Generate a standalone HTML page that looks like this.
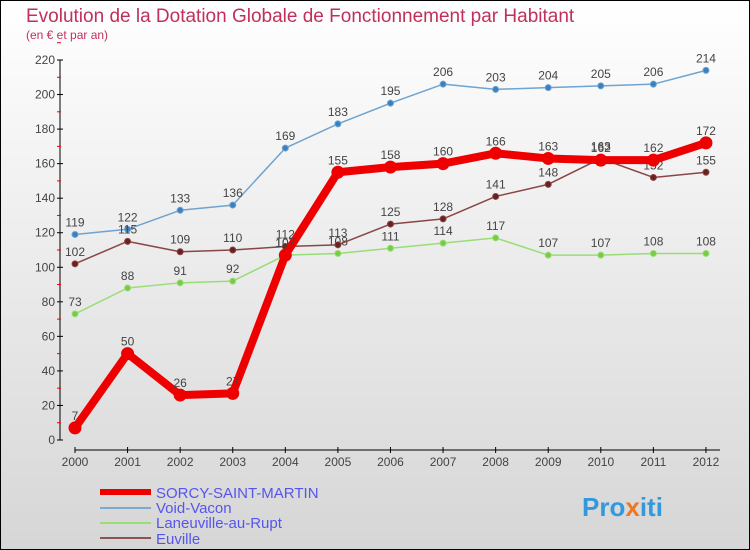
<!DOCTYPE html>
<html><head><meta charset="utf-8"><style>
body{margin:0}
#wrap{width:750px;height:550px;position:relative;overflow:hidden;background:linear-gradient(#ffffff,#d6d6d6);box-sizing:border-box;border:1px solid #000;font-family:"Liberation Sans",sans-serif}
</style></head><body>
<div id="wrap">
<svg id="svg" width="750" height="550" style="position:absolute;left:-1px;top:-1px">
<text x="26" y="22" font-size="19" fill="#c0305a">Evolution de la Dotation Globale de Fonctionnement par Habitant</text>
<text x="26" y="39" font-size="12" fill="#c0305a">(en € et par an)</text>
<g id="axes"></g><g id="series"></g>
<g>
<line x1="100" y1="492" x2="151" y2="492" stroke="#e00" stroke-width="6"/>
<text x="156" y="498" font-size="15" fill="#5555ee">SORCY-SAINT-MARTIN</text>
<line x1="100" y1="508" x2="151" y2="508" stroke="#7aaad0" stroke-width="2"/>
<text x="156" y="513" font-size="15" fill="#5555ee">Void-Vacon</text>
<line x1="100" y1="523" x2="151" y2="523" stroke="#99dd77" stroke-width="2"/>
<text x="156" y="528" font-size="15" fill="#5555ee">Laneuville-au-Rupt</text>
<line x1="100" y1="538" x2="151" y2="538" stroke="#8a5555" stroke-width="2"/>
<text x="156" y="544" font-size="15" fill="#5555ee">Euville</text>
</g>
<text x="582" y="516" font-size="26" font-weight="bold" fill="#3399dd">Pro<tspan fill="#ee7722">x</tspan>iti</text>
</svg>
</div>
<script>
const years=["2000","2001","2002","2003","2004","2005","2006","2007","2008","2009","2010","2011","2012"];
const yTicks=[0,20,40,60,80,100,120,140,160,180,200,220];
const sorcy=[7,50,26,27,107,155,158,160,166,163,162,162,172];
const voidVacon=[119,122,133,136,169,183,195,206,203,204,205,206,214];
const laneuville=[73,88,91,92,107,108,111,114,117,107,107,108,108];
const euville=[102,115,109,110,112,113,125,128,141,148,163,152,155];
const NS="http://www.w3.org/2000/svg";
const X=i=>75+i*52.58, Y=v=>440-v*1.7273;
function mk(t,a,p){const e=document.createElementNS(NS,t);for(const k in a)e.setAttribute(k,a[k]);p.appendChild(e);return e;}
const ax=document.getElementById('axes'), sg=document.getElementById('series');
let l=mk('line',{x1:60,y1:60,x2:60,y2:440,stroke:'#000'},ax);


yTicks.forEach(v=>{
 mk('line',{x1:57,y1:Y(v),x2:63,y2:Y(v),stroke:'#000'},ax);
 mk('line',{x1:57,y1:Y(v+10),x2:61,y2:Y(v+10),stroke:'#e00'},ax);
 const t=mk('text',{x:55,y:Y(v)+4,'font-size':12,fill:'#444','text-anchor':'end'},ax);t.textContent=v;
 
 
});
l=mk('line',{x1:75,y1:450,x2:720,y2:450,stroke:'#000'},ax);


years.forEach((y,i)=>{
 mk('line',{x1:X(i),y1:447,x2:X(i),y2:453,stroke:'#000'},ax);
 const t=mk('text',{x:X(i),y:466,'font-size':12,fill:'#444','text-anchor':'middle'},ax);t.textContent=y;
 
 
});
function series(d,col,w,r,name,fill){
 const g=mk('g',{},sg);
 
 
 mk('polyline',{points:d.map((v,i)=>X(i)+','+Y(v)).join(' '),fill:'none',stroke:col,'stroke-width':w,'stroke-linejoin':'round'},g);
 d.forEach((v,i)=>{
  const c=mk('circle',{cx:X(i),cy:Y(v),r:r,fill:fill,stroke:col,'stroke-width':1},g);
  
  
  const t=mk('text',{x:X(i),y:Y(v)-8,'font-size':12,fill:'#444','text-anchor':'middle'},g);t.textContent=v;
  
  
 });
}
series(voidVacon,'#6fa3d0',1.5,3,'series-void-vacon','#3a80c0');
series(laneuville,'#99dd77',1.5,3,'series-laneuville','#77cc44');
series(euville,'#8a4545',1.5,3,'series-euville','#6a2020');
series(sorcy,'#ee0000',8,6,'series-sorcy','#ee0000');
</script>
</body></html>
